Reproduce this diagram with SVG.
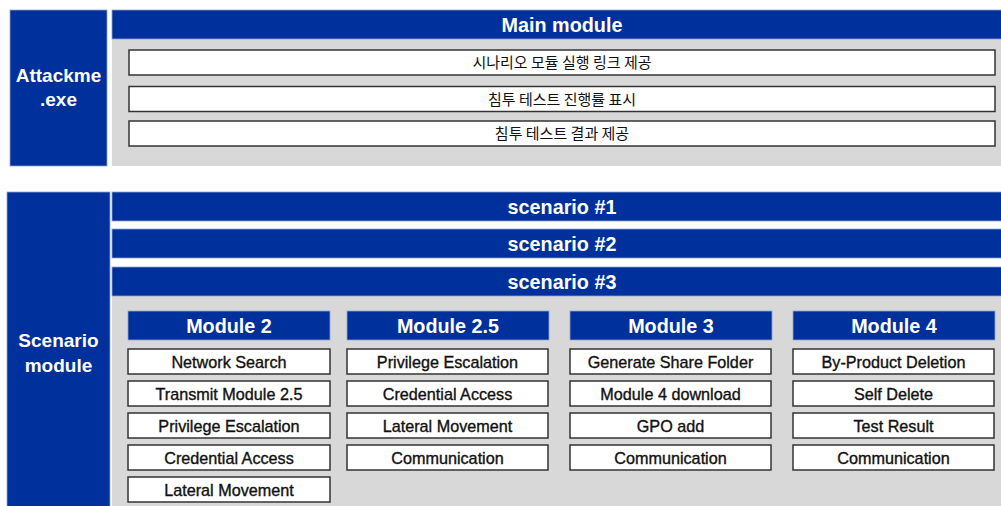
<svg xmlns="http://www.w3.org/2000/svg" width="1001" height="506" viewBox="0 0 1001 506">
  <style>
    .blue { fill: #00309b; stroke: #8ea2d2; stroke-width: 0.8; }
    .panel { fill: #d8d8d8; }
    .item { fill: #ffffff; stroke: #333333; stroke-width: 1.5; }
    .head { font-family: "Liberation Sans", Arial, sans-serif; font-weight: bold; font-size: 19.8px; fill: #ffffff; text-anchor: middle; }
    .side { font-family: "Liberation Sans", Arial, sans-serif; font-weight: bold; font-size: 19px; fill: #ffffff; text-anchor: middle; }
    .lbl { font-family: "Liberation Sans", Arial, sans-serif; font-size: 16.2px; fill: #111111; stroke: #111111; stroke-width: 0.35; text-anchor: middle; }
    .ko { font-family: "Noto Sans CJK KR", "Noto Sans", sans-serif; font-size: 15px; fill: #111111; text-anchor: middle; }
  </style>

  <!-- executable block -->
  <g id="attackme">
    <rect class="blue" x="10" y="10" width="97" height="156"/>
    <text class="side" x="58.5" y="82">Attackme</text>
    <text class="side" x="58.5" y="106">.exe</text>
  </g>

  <g id="main-module">
    <rect class="panel" x="112" y="39" width="889" height="127"/>
    <rect class="blue" x="112" y="10" width="890" height="29"/>
    <text class="head" x="562" y="32">Main module</text>
  </g>
  <g id="main-1">
    <rect class="item" x="129" y="50" width="866" height="25"/>
    <text class="ko" x="562" y="68">시나리오 모듈 실행 링크 제공</text>
  </g>
  <g id="main-2">
    <rect class="item" x="129" y="86.5" width="866" height="25"/>
    <text class="ko" x="562" y="104.5">침투 테스트 진행률 표시</text>
  </g>
  <g id="main-3">
    <rect class="item" x="129" y="121" width="866" height="25"/>
    <text class="ko" x="562" y="139">침투 테스트 결과 제공</text>
  </g>

  <!-- scenario block -->
  <g id="scenario-module">
    <rect class="blue" x="7" y="192" width="103" height="320"/>
    <text class="side" x="58.5" y="347">Scenario</text>
    <text class="side" x="58.5" y="372">module</text>
  </g>
  <g id="scenario-1">
    <rect class="blue" x="112" y="192" width="890" height="29"/>
    <text class="head" x="562" y="214">scenario #1</text>
  </g>
  <g id="scenario-2">
    <rect class="blue" x="112" y="229" width="890" height="29"/>
    <text class="head" x="562" y="251">scenario #2</text>
  </g>
  <g id="scenario-3">
    <rect class="panel" x="112" y="296" width="889" height="215"/>
    <rect class="blue" x="112" y="267" width="890" height="29"/>
    <text class="head" x="562" y="289">scenario #3</text>
  </g>

  <!-- Module 2 -->
  <g id="module-2">
    <rect class="blue" x="128" y="311" width="202" height="29"/>
    <text class="head" x="229" y="333">Module 2</text>
    <rect class="item" x="128" y="349" width="202" height="25"/>
    <text class="lbl" x="229" y="368">Network Search</text>
    <rect class="item" x="128" y="381" width="202" height="25"/>
    <text class="lbl" x="229" y="400">Transmit Module 2.5</text>
    <rect class="item" x="128" y="413" width="202" height="25"/>
    <text class="lbl" x="229" y="432">Privilege Escalation</text>
    <rect class="item" x="128" y="445" width="202" height="25"/>
    <text class="lbl" x="229" y="464">Credential Access</text>
    <rect class="item" x="128" y="477" width="202" height="25"/>
    <text class="lbl" x="229" y="496">Lateral Movement</text>
  </g>

  <!-- Module 2.5 -->
  <g id="module-2-5">
    <rect class="blue" x="347" y="311" width="202" height="29"/>
    <text class="head" x="448" y="333">Module 2.5</text>
    <rect class="item" x="347" y="349" width="201" height="25"/>
    <text class="lbl" x="447.5" y="368">Privilege Escalation</text>
    <rect class="item" x="347" y="381" width="201" height="25"/>
    <text class="lbl" x="447.5" y="400">Credential Access</text>
    <rect class="item" x="347" y="413" width="201" height="25"/>
    <text class="lbl" x="447.5" y="432">Lateral Movement</text>
    <rect class="item" x="347" y="445" width="201" height="25"/>
    <text class="lbl" x="447.5" y="464">Communication</text>
  </g>

  <!-- Module 3 -->
  <g id="module-3">
    <rect class="blue" x="570" y="311" width="202" height="29"/>
    <text class="head" x="671" y="333">Module 3</text>
    <rect class="item" x="570" y="349" width="201" height="25"/>
    <text class="lbl" x="670.5" y="368">Generate Share Folder</text>
    <rect class="item" x="570" y="381" width="201" height="25"/>
    <text class="lbl" x="670.5" y="400">Module 4 download</text>
    <rect class="item" x="570" y="413" width="201" height="25"/>
    <text class="lbl" x="670.5" y="432">GPO add</text>
    <rect class="item" x="570" y="445" width="201" height="25"/>
    <text class="lbl" x="670.5" y="464">Communication</text>
  </g>

  <!-- Module 4 -->
  <g id="module-4">
    <rect class="blue" x="793" y="311" width="202" height="29"/>
    <text class="head" x="894" y="333">Module 4</text>
    <rect class="item" x="793" y="349" width="201" height="25"/>
    <text class="lbl" x="893.5" y="368">By-Product Deletion</text>
    <rect class="item" x="793" y="381" width="201" height="25"/>
    <text class="lbl" x="893.5" y="400">Self Delete</text>
    <rect class="item" x="793" y="413" width="201" height="25"/>
    <text class="lbl" x="893.5" y="432">Test Result</text>
    <rect class="item" x="793" y="445" width="201" height="25"/>
    <text class="lbl" x="893.5" y="464">Communication</text>
  </g>

  <!-- no connectors in this layout -->
  <g id="connectors"/>
</svg>
